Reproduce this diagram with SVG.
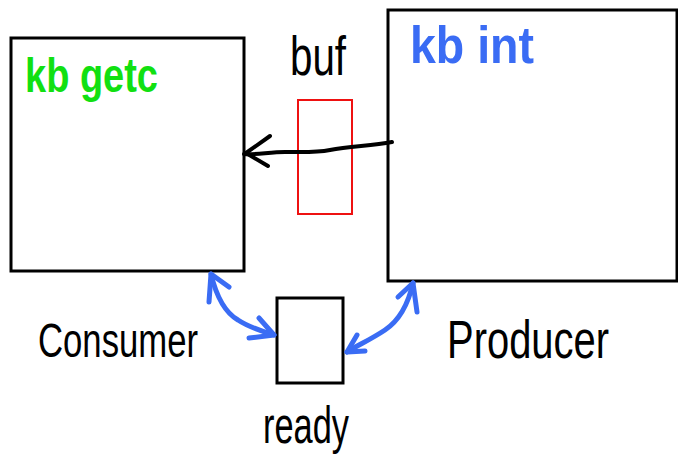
<svg xmlns="http://www.w3.org/2000/svg" width="678" height="465" viewBox="0 0 678 465">
<style>
.box{fill:#fff;stroke:#000;stroke-width:3}
.buf{fill:none;stroke:#ee1111;stroke-width:2}
.lbl{font-family:"Liberation Sans",Arial,sans-serif;fill:#000}
.ink{fill:none;stroke-linecap:round;stroke-linejoin:round}
.blk{stroke:#000;stroke-width:4}
.blu{stroke:#3a6cf4;stroke-width:5}
</style>
<rect width="678" height="465" fill="#fff"/>
<g id="kbgetc">
<rect class="box" x="11" y="38" width="233" height="233"/>
<text x="25" y="92" font-family="Liberation Sans,Arial,sans-serif" font-size="48" font-weight="bold" fill="#11e011" textLength="133" lengthAdjust="spacingAndGlyphs">kb getc</text>
</g>
<g id="kbint">
<rect class="box" x="388" y="10" width="289" height="271"/>
<text x="410" y="63" font-family="Liberation Sans,Arial,sans-serif" font-size="52" font-weight="bold" fill="#3a6cf4" textLength="124" lengthAdjust="spacingAndGlyphs">kb int</text>
</g>
<g id="buf">
<rect class="buf" x="298" y="100" width="54" height="114"/>
<text class="lbl" x="290" y="75" font-size="56" textLength="56" lengthAdjust="spacingAndGlyphs">buf</text>
</g>
<g id="ready">
<rect class="box" x="277" y="298" width="66" height="85"/>
<text class="lbl" x="263" y="443" font-size="52" textLength="86" lengthAdjust="spacingAndGlyphs">ready</text>
</g>
<g id="consumer">
<text class="lbl" x="38" y="357" font-size="48" textLength="160" lengthAdjust="spacingAndGlyphs">Consumer</text>
</g>
<g id="producer">
<text class="lbl" x="447" y="358" font-size="54" textLength="162" lengthAdjust="spacingAndGlyphs">Producer</text>
</g>
<g id="connectors">
<path class="ink blk" d="M392,142 C370,146 350,146 330,150 C315,153 300,152 285,152 C270,152 255,155 244,154"/>
<path class="ink blk" d="M270,136 L246,153 L268,166"/>
<path class="ink blu" d="M211,274 C216,295 224,312 238,320 C250,328 262,331 274,335"/>
<path class="ink blu" d="M209,302 L211,274 L229,287"/>
<path class="ink blu" d="M259,318 L274,335 L249,338"/>
<path class="ink blu" d="M413,283 C408,305 400,320 385,330 C370,340 358,345 347,352"/>
<path class="ink blu" d="M398,297 L413,283 L417,312"/>
<path class="ink blu" d="M357,335 L347,352 L365,351"/>
</g>
</svg>
